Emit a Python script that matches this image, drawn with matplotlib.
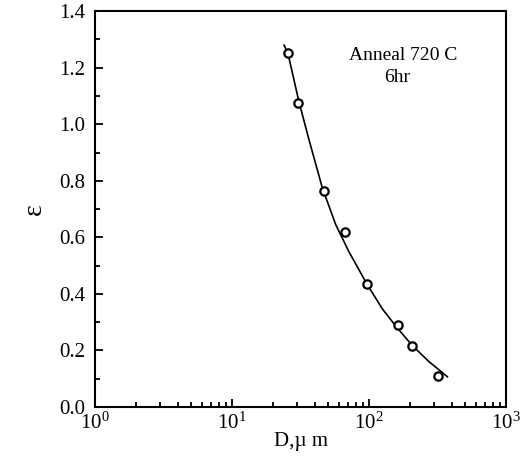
import numpy as np
import matplotlib
matplotlib.use("Agg")
import matplotlib.pyplot as plt
from matplotlib.ticker import LogLocator, MultipleLocator, NullFormatter

# ------------------------------------------------------------------
# data
# ------------------------------------------------------------------
grain_size = [25.6, 30.5, 47.0, 66.8, 97.2, 163.7, 207.0, 320.0]      # D, um
strain = [1.251, 1.077, 0.765, 0.620, 0.434, 0.290, 0.216, 0.111]    # epsilon

# fitted curve
fit_d = [24.0, 25.6, 30.8, 36.5, 45.6, 57.1, 71.5, 97.2,
         125.0, 160.9, 207.1, 274.2, 372.8]
fit_eps = [1.280, 1.250, 1.079, 0.944, 0.775, 0.645, 0.548,
           0.432, 0.347, 0.279, 0.217, 0.160, 0.107]

label_line1 = "Anneal 720 C"
label_line2 = "6hr"

# ------------------------------------------------------------------
# plot
# ------------------------------------------------------------------
plt.rcParams["font.family"] = ["Liberation Serif", "DejaVu Serif"]
plt.rcParams["mathtext.fontset"] = "stix"

fig = plt.figure(figsize=(5.25, 4.67), dpi=100)
ax = fig.add_axes([0.181, 0.1285, 0.783, 0.8475])

ax.plot(fit_d, fit_eps, "-", color="black", lw=1.2)
ax.plot(grain_size, strain, "o", mfc="white", mec="black", ms=6, mew=1.6)

ax.set_xscale("log")
ax.set_xlim(1, 1000)
ax.set_ylim(0, 1.4)

ax.yaxis.set_major_locator(MultipleLocator(0.2))
ax.yaxis.set_minor_locator(MultipleLocator(0.1))
ax.yaxis.set_major_formatter(plt.FormatStrFormatter("%.1f"))
ax.xaxis.set_major_locator(LogLocator(base=10, numticks=10))
ax.xaxis.set_minor_locator(LogLocator(base=10, subs=np.arange(2, 10), numticks=10))
ax.xaxis.set_minor_formatter(NullFormatter())

ax.tick_params(axis="both", which="both", direction="in", top=False, right=False,
               labelsize=15, width=1.3)
ax.tick_params(axis="both", which="major", length=6)
ax.tick_params(axis="both", which="minor", length=3.5)
ax.tick_params(axis="y", pad=7)
ax.tick_params(axis="x", pad=4)

for sp in ax.spines.values():
    sp.set_linewidth(1.5)

ax.set_xlabel("D,\u00b5 m", fontsize=15, labelpad=-1)
ax.set_ylabel("\u03b5", fontsize=20, labelpad=9)

ax.text(0.618, 0.876, label_line1, transform=ax.transAxes, fontsize=14,
        va="baseline", ha="left")
ax.text(0.703, 0.821, label_line2, transform=ax.transAxes, fontsize=14,
        va="baseline", ha="left")

fig.savefig("out.png", dpi=100)
